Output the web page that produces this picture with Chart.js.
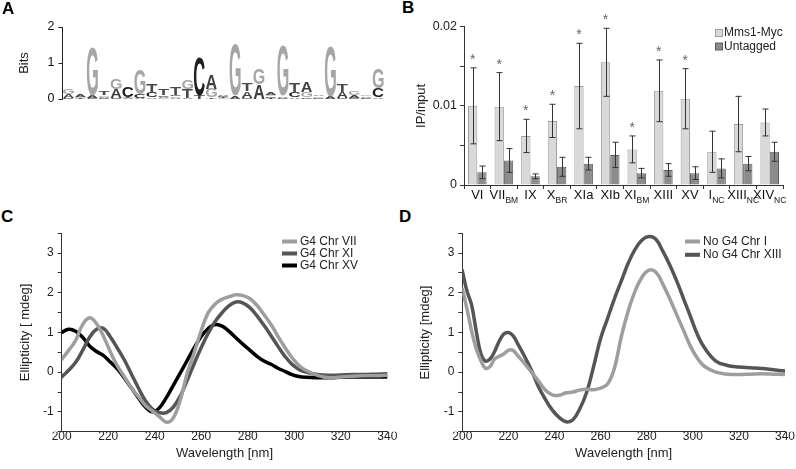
<!DOCTYPE html>
<html>
<head>
<meta charset="utf-8">
<script src="https://cdn.jsdelivr.net/npm/chart.js@4.4.1/dist/chart.umd.min.js"></script>
<style>
    html, body { margin: 0; padding: 0; background: #fff; }
    body { width: 796px; height: 469px; position: relative; overflow: hidden; font-family: "Liberation Sans", Arial, sans-serif; }
    .panel { position: absolute; }
    .tag { position: absolute; font-weight: bold; font-size: 17px; line-height: 1; color: #000; }
    #logoPanel { z-index: 3; }
</style>
</head>
<body>
<div class="tag" style="left:402px;top:-1px">B</div>
<div class="tag" style="left:1px;top:208px">C</div>
<div class="tag" style="left:399px;top:208px">D</div>

<div class="panel" style="left:392px;top:0;width:404px;height:210px"><canvas id="chipChart"></canvas></div>
<div class="panel" style="left:0;top:200px;width:398px;height:269px"><canvas id="g4Chart"></canvas></div>
<div class="panel" style="left:398px;top:200px;width:398px;height:269px"><canvas id="noG4Chart"></canvas></div>
<div class="panel" id="logoPanel" style="left:0;top:0;width:392px;height:120px"><canvas id="logoChart"></canvas></div>
<div class="tag" style="left:2px;top:0px;z-index:4">A</div>

<script>
(function () {
    'use strict';

    // A: motif logo, information content (bits) per position and base
    var logoPositions = ['1', '2', '3', '4', '5', '6', '7', '8', '9', '10', '11', '12', '13', '14', '15', '16', '17', '18', '19', '20', '21', '22', '23', '24', '25', '26', '27'];
    var logoA = [0.10, 0.07, 0.07, 0.04, 0.25, 0.03, 0.04, 0.05, 0.04, 0.03, 0.03, 0.00, 0.38, 0.05, 0.08, 0.18, 0.40, 0.06, 0.05, 0.05, 0.30, 0.05, 0.06, 0.16, 0.06, 0.05, 0.04];
    var logoC = [0.03, 0.00, 0.02, 0.02, 0.02, 0.28, 0.10, 0.13, 0.05, 0.05, 0.00, 1.05, 0.00, 0.04, 0.00, 0.04, 0.00, 0.04, 0.04, 0.14, 0.05, 0.04, 0.00, 0.04, 0.04, 0.03, 0.25];
    var logoG = [0.15, 0.03, 1.35, 0.04, 0.30, 0.00, 0.70, 0.00, 0.02, 0.04, 0.26, 0.00, 0.25, 0.02, 1.42, 0.00, 0.42, 0.05, 1.38, 0.00, 0.14, 0.04, 1.38, 0.00, 0.12, 0.05, 0.55];
    var logoT = [0.00, 0.02, 0.00, 0.09, 0.00, 0.03, 0.00, 0.25, 0.18, 0.20, 0.24, 0.10, 0.04, 0.03, 0.00, 0.22, 0.00, 0.03, 0.00, 0.24, 0.00, 0.00, 0.00, 0.22, 0.00, 0.00, 0.00];
    var bitsTicks = [0, 1, 2];
    var baseColors = { A: '#3f3f3f', C: '#1e1e1e', G: '#a6a6a6', T: '#4a4a4a' };

    // B: ChIP, IP/input
    var siteNames = ['VI', 'VII', 'IX', 'X', 'XIa', 'XIb', 'XI', 'XIII', 'XV', 'I', 'XIII', 'XIV'];
    var siteSubs = ['', 'BM', '', 'BR', '', '', 'BM', '', '', 'NC', 'NC', 'NC'];
    var mms1Mean = [0.0100, 0.0099, 0.0062, 0.0081, 0.0125, 0.0155, 0.0045, 0.0119, 0.0109, 0.0042, 0.0077, 0.0079];
    var mms1Err = [0.0048, 0.0043, 0.0021, 0.0021, 0.0054, 0.0043, 0.0017, 0.0039, 0.0038, 0.0026, 0.0035, 0.0017];
    var untaggedMean = [0.0016, 0.0031, 0.0011, 0.0023, 0.0027, 0.0038, 0.0015, 0.0019, 0.0015, 0.0021, 0.0027, 0.0042];
    var untaggedErr = [0.0008, 0.0015, 0.0003, 0.0012, 0.0008, 0.0016, 0.0006, 0.0008, 0.0008, 0.0012, 0.0009, 0.0012];
    var significant = [true, true, true, true, true, true, true, true, true, false, false, false];
    var chipTicks = [0, 0.005, 0.01, 0.015, 0.02];
    var chipTickLabels = ['0', '', '0.01', '', '0.02'];

    // C: CD spectra, G4 regions
    var cWave = [200, 203, 206, 209, 212, 215, 218, 221, 224, 227, 230, 233, 236, 239, 242, 245, 248, 251, 254, 257, 260, 263, 266, 269, 272, 275, 278, 281, 284, 287, 290, 293, 296, 299, 302, 305, 310, 315, 320, 325, 330, 335, 340];
    var chrVII = [0.32, 0.55, 0.80, 1.20, 1.37, 1.22, 0.90, 0.50, 0.15, -0.12, -0.40, -0.62, -0.84, -0.98, -1.12, -1.26, -1.15, -0.70, -0.02, 0.50, 1.05, 1.50, 1.72, 1.84, 1.90, 1.95, 1.93, 1.85, 1.68, 1.45, 1.20, 0.90, 0.62, 0.37, 0.17, 0.05, -0.08, -0.14, -0.12, -0.10, -0.09, -0.09, -0.08];
    var chrXI = [-0.12, 0.05, 0.25, 0.55, 0.88, 1.08, 1.10, 0.88, 0.60, 0.30, -0.05, -0.40, -0.72, -0.93, -1.02, -1.02, -0.88, -0.60, -0.20, 0.22, 0.62, 0.98, 1.28, 1.50, 1.68, 1.77, 1.74, 1.62, 1.42, 1.18, 0.92, 0.65, 0.40, 0.20, 0.07, 0.00, -0.06, -0.08, -0.07, -0.06, -0.06, -0.05, -0.04];
    var chrXV = [1.00, 1.08, 1.03, 0.88, 0.66, 0.52, 0.42, 0.25, 0.08, -0.15, -0.40, -0.65, -0.88, -1.00, -0.90, -0.64, -0.33, -0.02, 0.30, 0.62, 0.90, 1.10, 1.20, 1.16, 1.03, 0.86, 0.70, 0.55, 0.40, 0.28, 0.20, 0.10, 0.02, -0.06, -0.11, -0.13, -0.14, -0.14, -0.13, -0.12, -0.12, -0.12, -0.12];

    // D: CD spectra, non-G4 regions
    var dWave = [200, 202, 204, 206, 208, 210, 212, 214, 216, 218, 220, 222, 224, 227, 230, 233, 236, 239, 242, 245, 248, 251, 254, 257, 260, 263, 266, 269, 272, 275, 278, 281, 284, 287, 290, 293, 296, 299, 302, 305, 310, 315, 320, 325, 330, 335, 340];
    var noG4I = [2.10, 1.60, 1.05, 0.60, 0.30, 0.10, 0.14, 0.33, 0.40, 0.46, 0.55, 0.55, 0.42, 0.22, 0.00, -0.22, -0.45, -0.57, -0.58, -0.52, -0.50, -0.45, -0.43, -0.44, -0.40, -0.30, 0.10, 0.90, 1.55, 2.05, 2.40, 2.57, 2.52, 2.22, 1.85, 1.45, 1.05, 0.65, 0.35, 0.15, 0.00, -0.05, -0.06, -0.05, -0.04, -0.05, -0.06];
    var noG4XIII = [2.56, 2.05, 1.70, 1.05, 0.48, 0.28, 0.33, 0.52, 0.78, 0.96, 1.00, 0.92, 0.72, 0.40, 0.05, -0.36, -0.68, -0.95, -1.14, -1.25, -1.20, -0.92, -0.50, 0.15, 0.85, 1.35, 1.85, 2.30, 2.75, 3.10, 3.33, 3.42, 3.35, 3.05, 2.70, 2.30, 1.85, 1.40, 0.95, 0.62, 0.28, 0.17, 0.13, 0.11, 0.09, 0.06, 0.03];

    var waveTicks = [200, 220, 240, 260, 280, 300, 320, 340];
    var mdegTicks = [-1.5, -1, -0.5, 0, 0.5, 1, 1.5, 2, 2.5, 3, 3.5];

    var FONT = '"Liberation Sans", Arial, sans-serif';
    Chart.defaults.font.family = FONT;
    Chart.defaults.color = '#222';
    Chart.defaults.animation = false;
    Chart.defaults.plugins.legend.display = false;
    Chart.defaults.plugins.tooltip.enabled = false;

    function points(xs, ys) {
        return xs.map(function (x, i) { return { x: x, y: ys[i] }; });
    }
    function fixedTicks(values) {
        return function (scale) {
            scale.ticks = values.map(function (v) { return { value: v }; });
        };
    }

    // ---------- B ----------
    var chipExtras = {
        id: 'chipExtras',
        afterDatasetsDraw: function (chart) {
            var ctx = chart.ctx, ys = chart.scales.y, xs = chart.scales.x;
            var errs = [mms1Err, untaggedErr];
            ctx.save();
            ctx.strokeStyle = '#333';
            ctx.lineWidth = 1;
            chart.data.datasets.forEach(function (ds, d) {
                chart.getDatasetMeta(d).data.forEach(function (bar, i) {
                    var top = ys.getPixelForValue(ds.data[i] + errs[d][i]);
                    var bot = ys.getPixelForValue(ds.data[i] - errs[d][i]);
                    var x = Math.round(bar.x) + 0.5;
                    ctx.beginPath();
                    ctx.moveTo(x, top); ctx.lineTo(x, bot);
                    ctx.moveTo(x - 3, top); ctx.lineTo(x + 3, top);
                    ctx.moveTo(x - 3, bot); ctx.lineTo(x + 3, bot);
                    ctx.stroke();
                    if (d === 0 && significant[i]) {
                        ctx.fillStyle = '#666';
                        ctx.font = '14px ' + FONT;
                        ctx.textAlign = 'center';
                        ctx.textBaseline = 'alphabetic';
                        ctx.fillText('*', bar.x, top - 4);
                    }
                });
            });
            // category labels with subscripts
            ctx.fillStyle = '#111';
            ctx.textAlign = 'left';
            ctx.textBaseline = 'alphabetic';
            siteNames.forEach(function (name, i) {
                ctx.font = '13px ' + FONT;
                var wm = ctx.measureText(name).width;
                ctx.font = '8.5px ' + FONT;
                var wsub = siteSubs[i] ? ctx.measureText(siteSubs[i]).width : 0;
                var cx = xs.getPixelForValue(i);
                var start = cx - (wm + wsub) / 2;
                ctx.font = '13px ' + FONT;
                ctx.fillText(name, start, 199);
                if (wsub) {
                    ctx.font = '8.5px ' + FONT;
                    ctx.fillText(siteSubs[i], start + wm, 202.5);
                }
            });
            // legend
            ctx.font = '12px ' + FONT;
            ctx.textBaseline = 'middle';
            chart.data.datasets.forEach(function (ds, d) {
                var y = 33 + d * 13.5;
                ctx.fillStyle = ds.backgroundColor;
                ctx.fillRect(323.5, y - 3.5, 7, 7);
                ctx.strokeStyle = ds.borderColor;
                ctx.strokeRect(323.5, y - 3.5, 7, 7);
                ctx.fillStyle = '#222';
                ctx.fillText(ds.label, 332, y);
            });
            ctx.restore();
        }
    };

    new Chart(document.getElementById('chipChart'), {
        type: 'bar',
        data: {
            labels: siteNames.map(function (n, i) { return n + siteSubs[i]; }),
            datasets: [
                { label: 'Mms1-Myc', data: mms1Mean, backgroundColor: '#d9d9d9', borderColor: '#9c9c9c', borderWidth: 1, categoryPercentage: 0.7, barPercentage: 1 },
                { label: 'Untagged', data: untaggedMean, backgroundColor: '#8c8c8c', borderColor: '#5e5e5e', borderWidth: 1, categoryPercentage: 0.7, barPercentage: 1 }
            ]
        },
        options: {
            responsive: true, maintainAspectRatio: false,
            layout: { padding: { top: 26.7, right: 13, bottom: 0, left: 0 } },
            scales: {
                x: {
                    grid: { offset: true, drawOnChartArea: false, tickLength: 4, color: '#333' },
                    border: { color: '#333' },
                    ticks: { display: false },
                    afterFit: function (s) { s.height = 25; }
                },
                y: {
                    min: 0, max: 0.02,
                    afterBuildTicks: fixedTicks(chipTicks),
                    ticks: {
                        autoSkip: false, padding: 3, font: { size: 12.5 }, color: '#222',
                        callback: function (v, i) { return chipTickLabels[i]; }
                    },
                    grid: { drawOnChartArea: false, tickLength: 4, color: '#333' },
                    border: { color: '#333' },
                    title: { display: true, text: 'IP/input', font: { size: 13 }, padding: { top: 22, bottom: 0 } },
                    afterFit: function (s) { s.width = 72; }
                }
            }
        },
        plugins: [chipExtras]
    });

    // ---------- C and D ----------
    var lineLegend = {
        id: 'lineLegend',
        afterDraw: function (chart, args, opts) {
            var ctx = chart.ctx;
            ctx.save();
            ctx.font = '12px ' + FONT;
            ctx.textBaseline = 'middle';
            ctx.textAlign = 'left';
            chart.data.datasets.forEach(function (ds, i) {
                var y = opts.y + i * opts.gap;
                ctx.strokeStyle = ds.borderColor;
                ctx.lineWidth = 4;
                ctx.beginPath();
                ctx.moveTo(opts.x, y); ctx.lineTo(opts.x + 15, y);
                ctx.stroke();
                ctx.fillStyle = '#222';
                ctx.fillText(ds.label, opts.x + 18, y);
            });
            ctx.restore();
        }
    };

    function cdOptions(yWidth, titlePad, rightPad, legendX, legendGap, yTitle) {
        return {
            responsive: true, maintainAspectRatio: false,
            layout: { padding: { top: 33.3, right: rightPad, bottom: 0, left: 0 } },
            elements: { point: { radius: 0 }, line: { tension: 0.4, borderWidth: 3.5, borderCapStyle: 'round', borderJoinStyle: 'round' } },
            plugins: { lineLegend: { x: legendX, y: 41.5, gap: legendGap } },
            scales: {
                x: {
                    type: 'linear', min: 200, max: 340,
                    afterBuildTicks: fixedTicks(waveTicks),
                    ticks: { autoSkip: false, padding: -2, font: { size: 12, lineHeight: 1.2 }, color: '#222' },
                    grid: { drawOnChartArea: false, drawTicks: false, color: '#333' },
                    border: { color: '#333' },
                    title: { display: true, text: 'Wavelength [nm]', font: { size: 13 }, padding: { top: 0, bottom: 8 } },
                    afterFit: function (s) { s.height = 37.3; }
                },
                y: {
                    min: -1.5, max: 3.5,
                    afterBuildTicks: fixedTicks(mdegTicks),
                    ticks: {
                        autoSkip: false, padding: 4, font: { size: 12 }, color: '#222',
                        callback: function (v) { return Number.isInteger(v) ? String(v) : ''; }
                    },
                    grid: { drawOnChartArea: false, tickLength: 4, color: '#333' },
                    border: { color: '#333' },
                    title: { display: true, text: yTitle, font: { size: 13 }, padding: { top: titlePad, bottom: 0 } },
                    afterFit: function (s) { s.width = yWidth; }
                }
            }
        };
    }

    new Chart(document.getElementById('g4Chart'), {
        type: 'line',
        data: {
            datasets: [
                { label: 'G4 Chr VII', data: points(cWave, chrVII), borderColor: '#9e9e9e' },
                { label: 'G4 Chr XI', data: points(cWave, chrXI), borderColor: '#555555' },
                { label: 'G4 Chr XV', data: points(cWave, chrXV), borderColor: '#000000' }
            ]
        },
        options: cdOptions(61.7, 17.2, 10.7, 282, 12, 'Ellipticity [ mdeg]'),
        plugins: [lineLegend]
    });

    new Chart(document.getElementById('noG4Chart'), {
        type: 'line',
        data: {
            datasets: [
                { label: 'No G4 Chr I', data: points(dWave, noG4I), borderColor: '#9e9e9e' },
                { label: 'No G4 Chr XIII', data: points(dWave, noG4XIII), borderColor: '#555555' }
            ]
        },
        options: cdOptions(64.3, 19.2, 11, 287, 13.3, 'Ellipticity [mdeg]'),
        plugins: [lineLegend]
    });

    // ---------- A (created last, panel on top) ----------
    var logoPlugin = {
        id: 'logoLetters',
        afterDatasetsDraw: function (chart) {
            var ctx = chart.ctx, xs = chart.scales.x, ys = chart.scales.y;
            var half = xs.width / logoPositions.length * 0.46;
            ctx.save();
            ctx.font = 'bold 100px ' + FONT;
            ctx.textAlign = 'left';
            ctx.textBaseline = 'alphabetic';
            for (var i = 0; i < logoPositions.length; i++) {
                var stack = [['A', logoA[i]], ['C', logoC[i]], ['G', logoG[i]], ['T', logoT[i]]]
                    .filter(function (s) { return s[1] > 0; })
                    .sort(function (a, b) { return a[1] - b[1]; });
                var cx = xs.getPixelForValue(i);
                var x0 = cx - half, x1 = cx + half;
                var cum = 0;
                stack.forEach(function (s) {
                    var yb = ys.getPixelForValue(cum), yt = ys.getPixelForValue(cum + s[1]);
                    cum += s[1];
                    var m = ctx.measureText(s[0]);
                    var gw = m.actualBoundingBoxLeft + m.actualBoundingBoxRight;
                    var gh = m.actualBoundingBoxAscent + m.actualBoundingBoxDescent;
                    ctx.save();
                    ctx.translate(x0, yt);
                    ctx.scale((x1 - x0) / gw, (yb - yt) / gh);
                    ctx.fillStyle = baseColors[s[0]];
                    ctx.fillText(s[0], m.actualBoundingBoxLeft, m.actualBoundingBoxAscent);
                    ctx.restore();
                });
            }
            ctx.restore();
        }
    };

    new Chart(document.getElementById('logoChart'), {
        type: 'bar',
        data: {
            labels: logoPositions,
            datasets: [{ label: 'Bits', data: logoPositions.map(function (p, i) { return logoA[i] + logoC[i] + logoG[i] + logoT[i]; }), backgroundColor: 'rgba(0,0,0,0)', borderWidth: 0 }]
        },
        options: {
            responsive: true, maintainAspectRatio: false,
            layout: { padding: { top: 27, right: 8, bottom: 0, left: 0 } },
            scales: {
                x: {
                    grid: { display: false },
                    border: { display: false },
                    ticks: { display: false },
                    afterFit: function (s) { s.height = 21; }
                },
                y: {
                    min: 0, max: 2,
                    afterBuildTicks: fixedTicks(bitsTicks),
                    ticks: { autoSkip: false, padding: 4, font: { size: 12.5 }, color: '#111' },
                    grid: { drawOnChartArea: false, tickLength: 4, color: '#222' },
                    border: { color: '#222' },
                    title: { display: true, text: 'Bits', font: { size: 13 }, padding: { top: 17, bottom: 0 } },
                    afterFit: function (s) { s.width = 62.5; }
                }
            }
        },
        plugins: [logoPlugin]
    });
}());
</script>
</body>
</html>
